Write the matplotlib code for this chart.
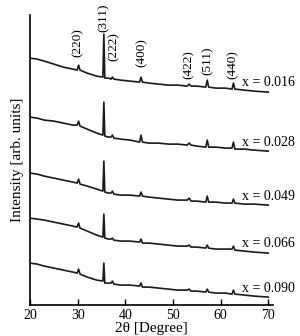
import numpy as np
import matplotlib
matplotlib.use("Agg")
import matplotlib.pyplot as plt

plt.rcParams['font.family'] = ['Liberation Serif', 'DejaVu Serif']

# 2theta grid (degrees)
two_theta = [20, 21.5, 23, 25, 27, 29, 29.9, 30.2, 30.5, 32, 34,
             35.3, 35.5, 35.7, 36.5, 37.0, 37.3, 37.6, 39, 41,
             43.0, 43.3, 43.6, 45, 47, 49, 51, 53.0, 53.4, 53.8, 55,
             56.9, 57.2, 57.5, 59, 61, 62.4, 62.7, 63.0, 65, 67, 70]

# intensities (arb. units, already offset)
i_016 = [247, 246, 244, 241, 238, 236, 235, 240, 235, 232, 229,
         228, 271, 227, 227, 226, 228, 226, 225, 224,
         223, 228, 223, 222, 221, 220, 220, 219, 221, 219, 219,
         218, 225, 218, 217, 217, 216, 222, 216, 215, 214, 213]
i_028 = [188, 187, 185, 184, 182, 180, 180, 184, 179, 176, 172,
         170, 203, 169, 168, 168, 170, 167, 166, 165,
         163, 170, 163, 162, 162, 161, 161, 160, 162, 160, 159,
         158, 165, 158, 158, 157, 157, 163, 156, 156, 155, 154]
i_049 = [132, 131, 129, 127, 125, 123, 122, 126, 121, 119, 116,
         114, 144, 113, 112, 112, 114, 111, 110, 110,
         109, 113, 109, 108, 107, 106, 105, 105, 107, 104, 104,
         103, 109, 103, 103, 102, 102, 106, 102, 101, 101, 100]
i_066 = [87, 86, 85, 83, 81, 79, 78, 82, 77, 74, 70,
         68, 91, 67, 66, 66, 67, 65, 64, 64,
         63, 66, 62, 62, 61, 60, 59, 59, 60, 58, 58,
         57, 60, 57, 56, 56, 56, 59, 55, 54, 53, 52]
i_090 = [42, 41, 39, 37, 35, 33, 32, 36, 31, 28, 25,
         24, 42, 22, 22, 22, 24, 21, 20, 20,
         19, 22, 18, 18, 17, 16, 15, 15, 16, 14, 14,
         13, 16, 13, 12, 12, 11, 15, 11, 10, 9, 8]

series = [i_016, i_028, i_049, i_066, i_090]
labels = ['x = 0.016', 'x = 0.028', 'x = 0.049', 'x = 0.066', 'x = 0.090']
label_y = [223, 163, 109, 62, 17]

peaks = ['(220)', '(311)', '(222)', '(400)', '(422)', '(511)', '(440)']
peak_pos = [30.1, 35.5, 37.6, 43.5, 53.2, 57.2, 62.6]
peak_lab_y = [263, 287, 259, 253, 241, 244, 241]

fig = plt.figure(figsize=(3.0, 3.36), dpi=100)
ax = fig.add_axes([0.1, 0.092, 0.81, 0.863])

for s in series:
    ax.plot(two_theta, s, color='#1a1a1a', lw=1.2)

for lab, y in zip(labels, label_y):
    ax.text(64.5, y, lab, fontsize=10, ha='left', va='center')

for p, x, y in zip(peaks, peak_pos, peak_lab_y):
    ax.text(x, y, p, fontsize=9.5, rotation=90, ha='center', va='center', clip_on=False)

ax.set_xlim(20, 71)
ax.set_ylim(0, 290)
ax.set_xticks([20, 30, 40, 50, 60, 70])
ax.set_yticks([])
ax.spines['top'].set_visible(False)
ax.spines['right'].set_visible(False)
ax.spines['left'].set_linewidth(1.2)
ax.spines['bottom'].set_linewidth(1.2)
ax.tick_params(axis='x', direction='in', length=4, width=1.0, labelsize=10, pad=3)
ax.set_xlabel('2θ [Degree]', fontsize=11, labelpad=0)
ax.set_ylabel('Intensity [arb. units]', fontsize=11, labelpad=4)

fig.savefig('out.png', dpi=100)
